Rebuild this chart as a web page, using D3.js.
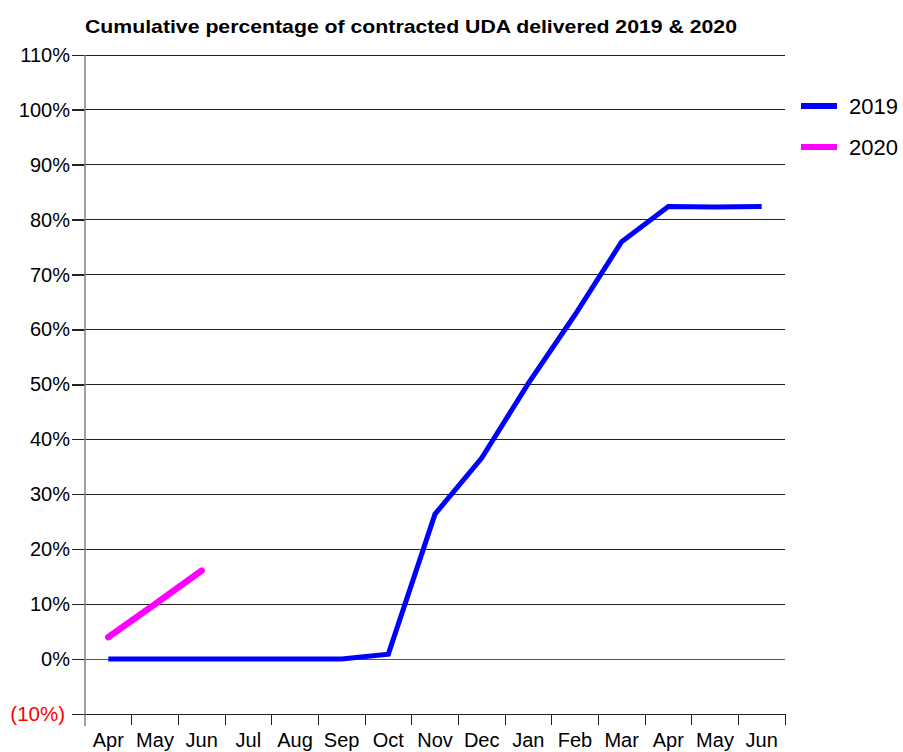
<!DOCTYPE html>
<html><head><meta charset="utf-8">
<script src="https://cdn.jsdelivr.net/npm/d3@7"></script>
<style>body{margin:0;background:#fff}svg{display:block;font-family:"Liberation Sans",Arial,sans-serif}</style>
</head><body><svg id="c" width="903" height="752"></svg>
<script>
const months = ["Apr","May","Jun","Jul","Aug","Sep","Oct","Nov","Dec","Jan","Feb","Mar","Apr","May","Jun"];
const values2019 = [0,0,0,0,0,0,0.9,26.4,36.6,50.2,62.7,76.0,82.4,82.3,82.4];
const values2020 = [4.0,10.0,16.1];
const yTicks = [-10,0,10,20,30,40,50,60,70,80,90,100,110];
const seriesNames = ["2019","2020"];
const seriesColors = ["#0000ff","#ff00ff"];

const svg = d3.select("#c");
const m = {l:85, r:785, t:55, b:714};
const x = d3.scaleBand().domain(d3.range(months.length)).range([m.l, m.r]);
const y = d3.scaleLinear().domain([-10,110]).range([m.b, m.t]);

// title
svg.append("text").attr("x",411).attr("y",33).attr("text-anchor","middle")
  .attr("font-weight","bold").attr("font-size",18.5)
  .attr("textLength",652).attr("lengthAdjust","spacingAndGlyphs")
  .text("Cumulative percentage of contracted UDA delivered 2019 & 2020");

// gridlines
svg.append("g").selectAll("line").data(yTicks.filter(d=>d>-10)).join("line")
  .attr("x1",m.l-13).attr("x2",m.r).attr("y1",d=>y(d)).attr("y2",d=>y(d))
  .attr("stroke",d=>d===0?"#555":"#222").attr("stroke-width",1).attr("shape-rendering","crispEdges");

// y axis
const yAxis = d3.axisLeft(y).tickValues(yTicks).tickSize(13).tickPadding(2)
  .tickFormat(d=> d<0 ? "("+Math.abs(d)+"%)" : d+"%");
const gy = svg.append("g").attr("transform",`translate(${m.l},0)`).call(yAxis);
gy.attr("font-size",20).attr("font-family","Liberation Sans, Arial, sans-serif");
gy.select(".domain").remove();
gy.selectAll(".tick line").attr("stroke","#222").attr("shape-rendering","crispEdges");
gy.selectAll(".tick text").attr("fill",d=>d<0?"#ff0000":"#000")
  .attr("x",d=>d<0?-20:-15).attr("font-size",d=>d<0?20.5:20);
svg.append("line").attr("x1",m.l).attr("x2",m.l).attr("y1",m.t).attr("y2",m.b+12)
  .attr("stroke","#808080").attr("stroke-width",1.5);

// x axis
const xAxis = d3.axisBottom(x).tickSize(0).tickPadding(19).tickFormat(i=>months[i]);
const gx = svg.append("g").attr("transform",`translate(0,${m.b})`).call(xAxis);
gx.attr("font-size",20).attr("font-family","Liberation Sans, Arial, sans-serif");
gx.select(".domain").remove();
gx.selectAll(".tick text").attr("fill","#000");
svg.append("line").attr("x1",m.l).attr("x2",m.r).attr("y1",m.b).attr("y2",m.b)
  .attr("stroke","#222").attr("shape-rendering","crispEdges");
const bounds = d3.range(months.length+1).map(i=> i<months.length ? x(i) : m.r);
svg.append("g").selectAll("line").data(bounds.slice(1)).join("line")
  .attr("x1",d=>d).attr("x2",d=>d).attr("y1",m.b).attr("y2",m.b+11)
  .attr("stroke","#222").attr("shape-rendering","crispEdges");

// lines
const line = d3.line().x((d,i)=>x(i)+x.bandwidth()/2).y(d=>y(d));
svg.append("path").datum(values2019).attr("d",line).attr("fill","none")
  .attr("stroke",seriesColors[0]).attr("stroke-width",5).attr("stroke-linejoin","miter");
svg.append("path").datum(values2020).attr("d",line).attr("fill","none")
  .attr("stroke",seriesColors[1]).attr("stroke-width",6.5).attr("stroke-linecap","round");

// legend
const lg = svg.append("g");
seriesNames.forEach((s,i)=>{
  const yy = 106 + i*41;
  lg.append("line").attr("x1",801).attr("x2",837).attr("y1",yy).attr("y2",yy)
    .attr("stroke",seriesColors[i]).attr("stroke-width",6);
  lg.append("text").attr("x",849).attr("y",yy+8).attr("font-size",22).text(s);
});
</script></body></html>
